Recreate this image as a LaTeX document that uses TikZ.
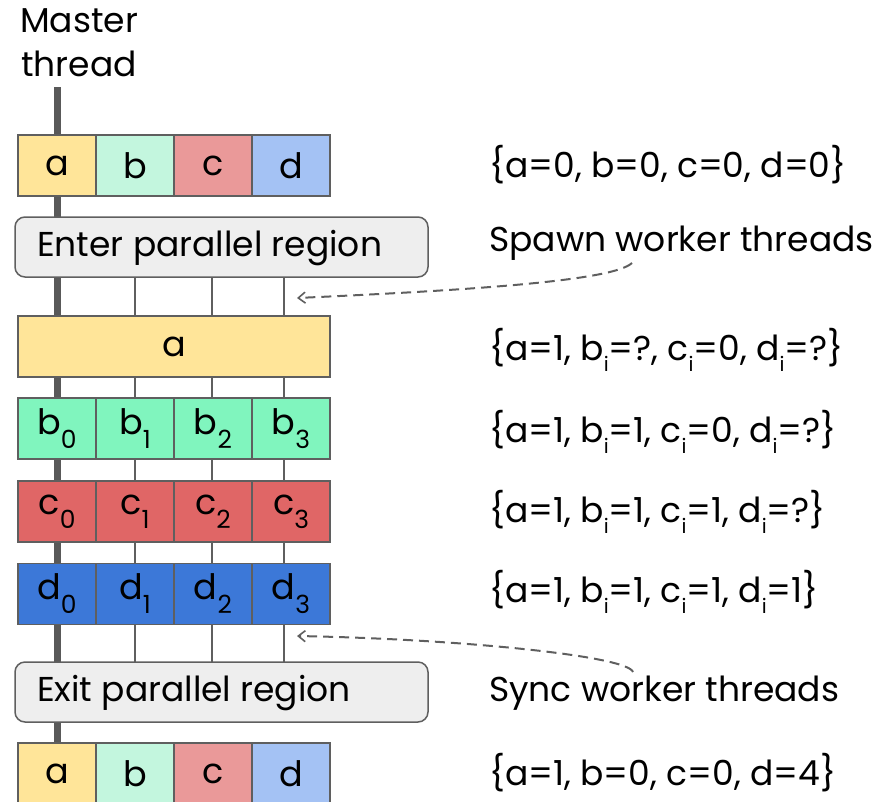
\documentclass[tikz,border=0pt]{standalone}
\usepackage{fontspec}
\setmainfont{Poppins}
\usetikzlibrary{arrows.meta}
\definecolor{ylt}{HTML}{FFE599}
\definecolor{blt}{HTML}{C3F6DE}
\definecolor{clt}{HTML}{EA9999}
\definecolor{dlt}{HTML}{A4C2F4}
\definecolor{bst}{HTML}{80F5BE}
\definecolor{cst}{HTML}{E06666}
\definecolor{dst}{HTML}{3C78D8}
\definecolor{edge}{HTML}{5F5F5F}
\definecolor{mline}{HTML}{595959}
\definecolor{boxfill}{HTML}{EEEEEE}
\newcommand{\cellsub}[1]{\raisebox{-0.4em}{\fontsize{25}{25}\selectfont #1}}
\newcommand{\isub}{\raisebox{-0.32em}{\fontsize{20}{20}\selectfont i}}
\begin{document}
\begin{tikzpicture}[x=1pt,y=-1pt,
  txt/.style={font=\fontsize{34.5}{44}\selectfont, inner sep=0pt},
  cell/.style={draw=edge, line width=1.5pt, minimum width=78pt, minimum height=61pt, inner sep=0pt, font=\fontsize{35}{40}\selectfont},
  regionbox/.style={draw=edge, fill=boxfill, line width=1.5pt, rounded corners=10pt, minimum width=413pt, minimum height=60pt, inner sep=0pt},
  master/.style={draw=mline, line width=7pt},
  worker/.style={draw=edge, line width=1.5pt},
  note/.style={draw=edge, line width=2pt, dash pattern=on 10pt off 6pt, -{Straight Barb[length=7pt,width=11pt,line width=1.6pt]}}
]
\useasboundingbox (0,0) rectangle (894,801);
\clip (0,0) rectangle (894,801);

% master thread line
\coordinate (mtop) at (57,87);
\coordinate (mbot) at (57,805);
\draw[master] (mtop) -- (mbot);

% worker thread lines
\coordinate (w1t) at (135,277); \coordinate (w1b) at (135,662);
\coordinate (w2t) at (212,277); \coordinate (w2b) at (212,662);
\coordinate (w3t) at (284,277); \coordinate (w3b) at (284,662);
\draw[worker] (w1t) -- (w1b);
\draw[worker] (w2t) -- (w2b);
\draw[worker] (w3t) -- (w3b);

% title
\node[txt, align=center] (mlabel) at (79,43) {Master\\thread};

% row 1
\node[cell, fill=ylt] (r1a) at (57,165.5) {a};
\node[cell, fill=blt] (r1b) at (135,165.5) {b};
\node[cell, fill=clt] (r1c) at (213,165.5) {c};
\node[cell, fill=dlt] (r1d) at (291,165.5) {d};

% enter box
\node[regionbox] (enter) at (221.5,247) {};
\node[txt, anchor=west] (entertxt) at (37,248) {Enter parallel region};

% a row
\node[cell, fill=ylt, minimum width=312pt] (rowa) at (174,346.5) {a};

% b row
\node[cell, fill=bst] (b0) at (57,428.5) {b\cellsub{0}};
\node[cell, fill=bst] (b1) at (135,428.5) {b\cellsub{1}};
\node[cell, fill=bst] (b2) at (213,428.5) {b\cellsub{2}};
\node[cell, fill=bst] (b3) at (291,428.5) {b\cellsub{3}};

% c row
\node[cell, fill=cst] (c0) at (57,511.5) {c\cellsub{0}};
\node[cell, fill=cst] (c1) at (135,511.5) {c\cellsub{1}};
\node[cell, fill=cst] (c2) at (213,511.5) {c\cellsub{2}};
\node[cell, fill=cst] (c3) at (291,511.5) {c\cellsub{3}};

% d row
\node[cell, fill=dst] (d0) at (57,594) {d\cellsub{0}};
\node[cell, fill=dst] (d1) at (135,594) {d\cellsub{1}};
\node[cell, fill=dst] (d2) at (213,594) {d\cellsub{2}};
\node[cell, fill=dst] (d3) at (291,594) {d\cellsub{3}};

% exit box
\node[regionbox] (exit) at (221.5,692) {};
\node[txt, anchor=west] (exittxt) at (37,693) {Exit parallel region};

% last row
\node[cell, fill=ylt] (r2a) at (57,773.5) {a};
\node[cell, fill=blt] (r2b) at (135,773.5) {b};
\node[cell, fill=clt] (r2c) at (213,773.5) {c};
\node[cell, fill=dlt] (r2d) at (291,773.5) {d};

% right side states
\node[txt, anchor=west] (s1) at (489,165) {\{a=0, b=0, c=0, d=0\}};
\node[txt, anchor=west] (spawn) at (489,243) {Spawn worker threads};
\node[txt, anchor=west] (s2) at (489,350) {\{a=1, b\isub=?, c\isub=0, d\isub=?\}};
\node[txt, anchor=west] (s3) at (489,432) {\{a=1, b\isub=1, c\isub=0, d\isub=?\}};
\node[txt, anchor=west] (s4) at (489,512) {\{a=1, b\isub=1, c\isub=1, d\isub=?\}};
\node[txt, anchor=west] (s5) at (489,592) {\{a=1, b\isub=1, c\isub=1, d\isub=1\}};
\node[txt, anchor=west] (sync) at (489,693) {Sync worker threads};
\node[txt, anchor=west] (s6) at (489,773) {\{a=1, b=0, c=0, d=4\}};

% dashed arrows
\coordinate (spawnfrom) at (632,263);
\coordinate (spawnto) at (297,298);
\draw[note] (spawnfrom) .. controls (612,282) and (450,291) .. (spawnto);
\coordinate (syncfrom) at (633,672);
\coordinate (syncto) at (297,636);
\draw[note] (syncfrom) .. controls (628,656) and (460,639) .. (syncto);
\end{tikzpicture}
\end{document}
